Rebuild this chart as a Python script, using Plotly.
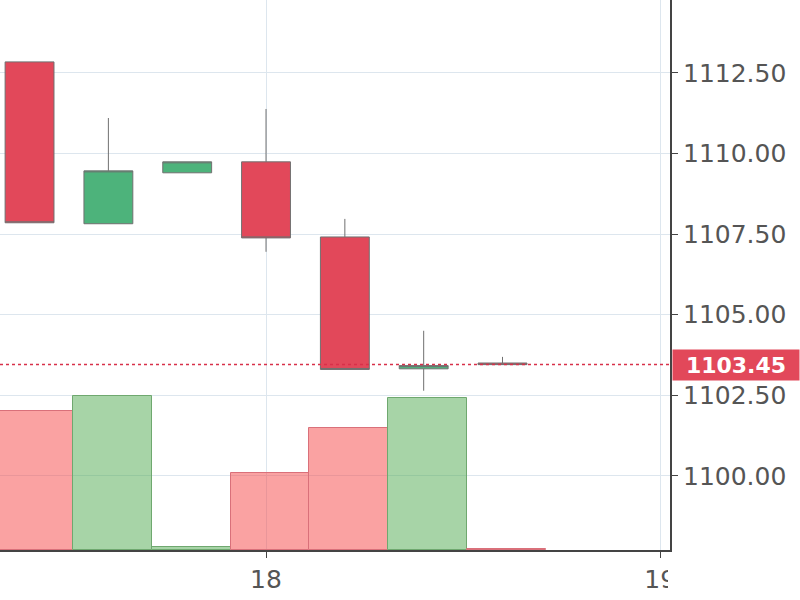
import plotly.graph_objects as go

# candle positions (x units, 18 and 19 are the labelled ticks)
x_pos = [17.4, 17.6, 17.8, 18.0, 18.2, 18.4, 18.6]

opens = [1112.84, 1107.82, 1109.40, 1109.74, 1107.41, 1103.32, 1103.50]
highs = [1112.84, 1111.10, 1109.74, 1111.38, 1107.97, 1104.50, 1103.69]
lows = [1107.85, 1107.82, 1109.40, 1106.95, 1103.30, 1102.64, 1103.45]
closes = [1107.85, 1109.46, 1109.74, 1107.38, 1103.30, 1103.42, 1103.45]

volumes = [25300, 28000, 600, 14000, 22200, 27600, 250]

last_price = 1103.45

price_ticks = [1100.00, 1102.50, 1105.00, 1107.50, 1110.00, 1112.50]
x_ticks = [18, 19]

RED = "#E2485A"
GREEN = "#4DB37B"
FONT = "DejaVu Sans, Liberation Sans, Arial"

vol_fill = ["rgba(80,170,80,0.5)" if c >= o else "rgba(245,70,70,0.5)"
            for o, c in zip(opens, closes)]
vol_edge = ["#6FA86F" if c >= o else "#D9707A" for o, c in zip(opens, closes)]

volume_trace = go.Bar(
    x=x_pos,
    y=volumes,
    yaxis="y2",
    width=0.2,
    offset=-0.09,
    marker=dict(color=vol_fill, line=dict(color=vol_edge, width=1)),
    hoverinfo="skip",
)

candle_trace = go.Candlestick(
    x=x_pos,
    open=opens,
    high=highs,
    low=lows,
    close=closes,
    increasing=dict(fillcolor=GREEN, line=dict(color="#707070", width=1)),
    decreasing=dict(fillcolor=RED, line=dict(color="#707070", width=1)),
)

fig = go.Figure(data=[volume_trace, candle_trace])

# last price line
fig.add_shape(
    type="line", xref="paper", x0=0, x1=1, yref="y", y0=last_price, y1=last_price,
    line=dict(color="#D8304A", width=1.5, dash="dot"),
)

# the chart clips the last x tick label at the price axis
fig.add_shape(
    type="rect", xref="paper", x0=0.997, x1=1.2, yref="paper", y0=-0.2, y1=-0.014,
    fillcolor="white", line=dict(width=0), layer="above",
)

fig.add_annotation(
    xref="paper", x=1, xanchor="left", xshift=2,
    yref="y", y=last_price, yanchor="middle",
    text="<b>1103.45</b>", showarrow=False,
    font=dict(color="white", size=22, family=FONT),
    bgcolor=RED, width=124, height=28, borderpad=1,
)

fig.update_layout(
    width=800,
    height=600,
    margin=dict(l=0, r=130, t=0, b=50),
    paper_bgcolor="white",
    plot_bgcolor="white",
    showlegend=False,
    bargap=0,
    boxgap=0.38,
    boxgroupgap=0,
    font=dict(family=FONT, color="#555555", size=25),
    xaxis=dict(
        range=[17.325, 19.025],
        tickvals=x_ticks,
        ticktext=[str(t) for t in x_ticks],
        showgrid=True, gridcolor="#DDE6EE",
        zeroline=False,
        showline=True, linecolor="#444444", linewidth=2,
        ticks="outside", ticklen=6, tickcolor="#444444",
        rangeslider=dict(visible=False),
        tickfont=dict(size=25, color="#555555"),
        automargin=False,
    ),
    yaxis=dict(
        side="right",
        range=[1097.70, 1114.76],
        tickvals=price_ticks,
        ticktext=[f"{t:.2f}" for t in price_ticks],
        showgrid=True, gridcolor="#DDE6EE",
        zeroline=False,
        showline=True, linecolor="#444444", linewidth=2,
        ticks="outside", ticklen=6, tickcolor="#444444",
        tickfont=dict(size=25, color="#555555"),
        automargin=False,
    ),
    yaxis2=dict(
        overlaying="y",
        range=[0, 100000],
        visible=False,
    ),
)

fig.write_html(
    "out.html",
    config={"displayModeBar": False},
    post_script="document.body.style.margin='0px';",
)
